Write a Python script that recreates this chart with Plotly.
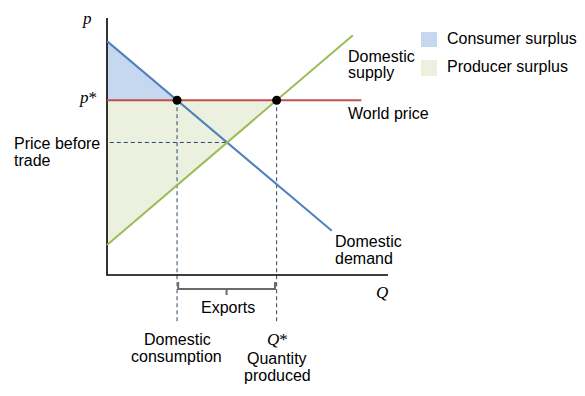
import numpy as np
import plotly.graph_objects as go

# ---- data (economic units) ----
demand_q = [0.0, 8.0]
demand_p = [9.1, 1.72]
supply_q = [0.0, 8.75]
supply_p = [1.17, 9.33]
world_price = 6.8
world_q_end = 9.05
axis_len_q = 10.0
axis_len_p = 10.0

# derived intersections
d_slope = (demand_p[1] - demand_p[0]) / (demand_q[1] - demand_q[0])
s_slope = (supply_p[1] - supply_p[0]) / (supply_q[1] - supply_q[0])
q_cons = (world_price - demand_p[0]) / d_slope
q_prod = (world_price - supply_p[0]) / s_slope
q_eq = (supply_p[0] - demand_p[0]) / (d_slope - s_slope)
p_eq = demand_p[0] + d_slope * q_eq

PAGE_OFF = 8  # default body margin of the page
W, H = 585 - PAGE_OFF, 396 - PAGE_OFF
# pixel geometry of the plotting frame (window pixels)
ox, oy = 107, 275
sx, sy = 28.1, 25.7
xr = [(PAGE_OFF - ox) / sx, (PAGE_OFF + W - ox) / sx]
yr = [(oy - (PAGE_OFF + H)) / sy, (oy - PAGE_OFF) / sy]

c_blue = "#4F81BD"
c_green = "#9BBB59"
c_red = "#C0504D"
c_cs = "#C6D8F0"
c_ps = "#EBF1DE"
c_dash = "#2A4766"

fig = go.Figure()

# consumer surplus
fig.add_trace(go.Scatter(x=[0, q_cons, 0], y=[demand_p[0], world_price, world_price],
                         fill="toself", fillcolor=c_cs, line=dict(width=0), mode="lines",
                         hoverinfo="skip", showlegend=False))
# producer surplus
fig.add_trace(go.Scatter(x=[0, q_prod, 0], y=[world_price, world_price, supply_p[0]],
                         fill="toself", fillcolor=c_ps, line=dict(width=0), mode="lines",
                         hoverinfo="skip", showlegend=False))

dash = "4px,3px"
low = (oy - 322) / sy
# dashed guides
fig.add_trace(go.Scatter(x=[q_cons, q_cons], y=[world_price, low], mode="lines",
                         line=dict(color=c_dash, width=1, dash=dash), showlegend=False))
fig.add_trace(go.Scatter(x=[q_prod, q_prod], y=[world_price, low], mode="lines",
                         line=dict(color=c_dash, width=1, dash=dash), showlegend=False))
fig.add_trace(go.Scatter(x=[0.1, q_eq], y=[p_eq, p_eq], mode="lines",
                         line=dict(color=c_dash, width=1, dash=dash), showlegend=False))

# axes
fig.add_trace(go.Scatter(x=[0, 0, axis_len_q], y=[axis_len_p, 0, 0], mode="lines",
                         line=dict(color="black", width=1.6), showlegend=False))

# curves
fig.add_trace(go.Scatter(x=demand_q, y=demand_p, mode="lines",
                         line=dict(color=c_blue, width=2), showlegend=False))
fig.add_trace(go.Scatter(x=supply_q, y=supply_p, mode="lines",
                         line=dict(color=c_green, width=2), showlegend=False))
fig.add_trace(go.Scatter(x=[0, world_q_end], y=[world_price, world_price], mode="lines",
                         line=dict(color=c_red, width=2), showlegend=False))

# intersection points
fig.add_trace(go.Scatter(x=[q_cons, q_prod], y=[world_price, world_price], mode="markers",
                         marker=dict(color="black", size=9), showlegend=False))

# brace for exports
b_top = (oy - 282) / sy
b_mid = (oy - 289) / sy
b_tip = (oy - 295) / sy
bl, br = q_cons + 0.04, q_prod - 0.06
bm = (bl + br) / 2
fig.add_trace(go.Scatter(x=[bl, bl, bm, bm, bm, br, br],
                         y=[b_top, b_mid, b_mid, b_tip, b_mid, b_mid, b_top], mode="lines",
                         line=dict(color="#6b6b6b", width=2), showlegend=False))

# legend squares
def P(px, py):
    return (px - ox) / sx, (oy - py) / sy

for (y0p, y1p, col) in [(32, 47, c_cs), (60, 76, c_ps)]:
    x0, y0 = P(421, y0p)
    x1, y1 = P(437, y1p)
    fig.add_shape(type="rect", x0=x0, x1=x1, y0=y0, y1=y1, fillcolor=col,
                  line=dict(width=0), xref="x", yref="y")

sans = dict(family="Liberation Sans, Arial, sans-serif", size=16, color="black")
serif = dict(family="Liberation Serif, Times New Roman, serif", size=17, color="black")

labels = [
    ("<i>p</i>", 87, 18, "center", serif),
    ("<i>p</i>*", 88, 97.5, "center", serif),
    ("Price before", 12, 143.5, "left", sans),
    ("trade", 12, 160.5, "left", sans),
    ("Domestic", 346, 56.5, "left", sans),
    ("supply", 346, 72, "left", sans),
    ("World price", 346, 113.5, "left", sans),
    ("Consumer surplus", 445, 38.5, "left", sans),
    ("Producer surplus", 445, 66.5, "left", sans),
    ("Domestic", 333, 241.5, "left", sans),
    ("demand", 333, 258.5, "left", sans),
    ("<i>Q</i>", 382, 292, "center", serif),
    ("Exports", 228, 307.5, "center", sans),
    ("Domestic", 177, 339.5, "center", sans),
    ("consumption", 176.5, 356, "center", sans),
    ("<i>Q</i>*", 277, 339.5, "center", serif),
    ("Quantity", 277, 358.5, "center", sans),
    ("produced", 277, 375, "center", sans),
]
for text, px, py, anchor, font in labels:
    x, y = P(px, py)
    fig.add_annotation(x=x, y=y, text=text, showarrow=False, xanchor=anchor,
                       yanchor="middle", font=font, xref="x", yref="y")

fig.update_xaxes(range=xr, visible=False, fixedrange=True)
fig.update_yaxes(range=yr, visible=False, fixedrange=True)
fig.update_layout(width=W, height=H, autosize=False,
                  margin=dict(l=0, r=0, t=0, b=0, pad=0),
                  plot_bgcolor="white", paper_bgcolor="white", showlegend=False)

fig.write_html("out.html")
